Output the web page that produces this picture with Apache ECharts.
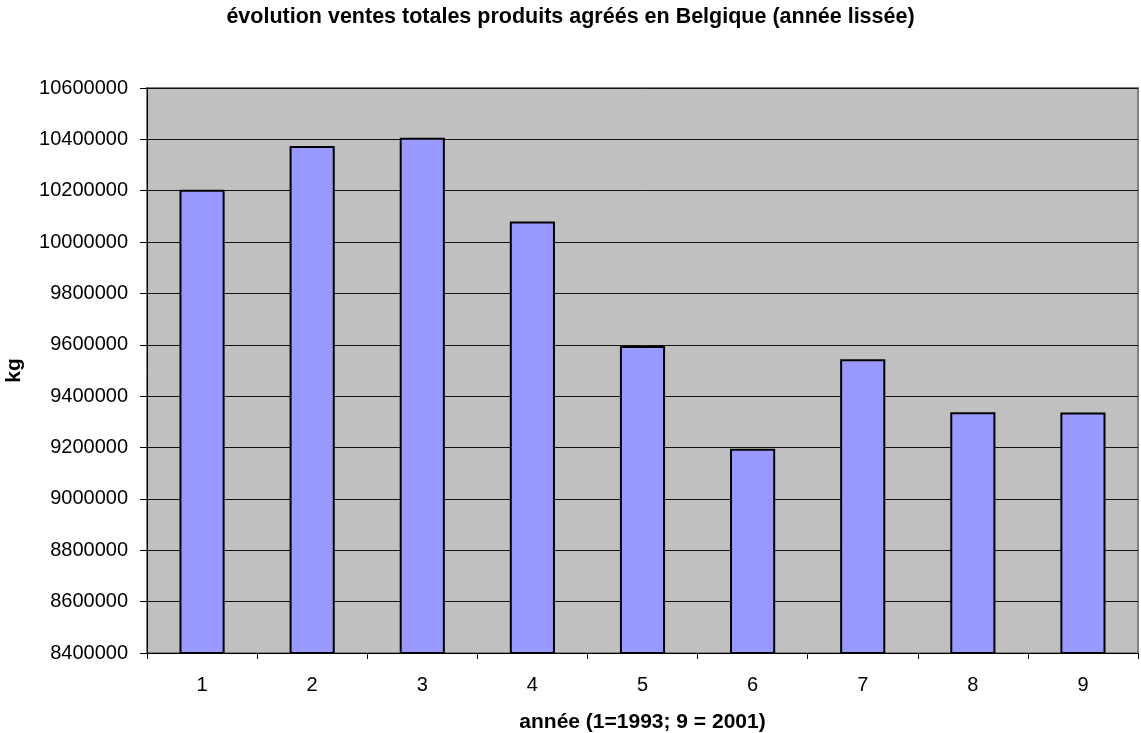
<!DOCTYPE html>
<html>
<head>
<meta charset="utf-8">
<script src="https://cdn.jsdelivr.net/npm/echarts@6/dist/echarts.min.js"></script>
<style>html,body{margin:0;padding:0;background:#fff}#c{width:1141px;height:733px}</style>
</head>
<body>
<div id="c"></div>
<script>
const categories = ['1','2','3','4','5','6','7','8','9'];
const values = [10204000, 10374000, 10406000, 10080000, 9595000, 9195000, 9544000, 9337000, 9336000];
const titleText = 'évolution ventes totales produits agréés en Belgique (année lissée)';
const xName = 'année (1=1993; 9 = 2001)';
const yName = 'kg';

const FONT = 'Liberation Sans, Arial, sans-serif';
const chart = echarts.init(document.getElementById('c'), null, {renderer:'canvas'});
chart.setOption({
  animation: false,
  textStyle: {fontFamily: FONT},
  title: {
    text: titleText, left: 'center', top: 1,
    textStyle: {fontSize: 21.5, fontWeight: 'bold', color: '#000', fontFamily: FONT}
  },
  grid: {
    left: 147, right: 3, top: 88, bottom: 80,
    outerBoundsMode: 'none', containLabel: false,
    show: true, backgroundColor: '#C0C0C0', borderColor: '#808080', borderWidth: 2
  },
  xAxis: {
    type: 'category', data: categories,
    name: xName, nameLocation: 'middle', nameGap: 59,
    nameTextStyle: {fontSize: 21, fontWeight: 'bold', color: '#000', fontFamily: FONT},
    axisLine: {lineStyle: {color: '#000', width: 1}},
    axisTick: {show: true, alignWithLabel: false, length: 6, lineStyle: {color: '#000'}},
    axisLabel: {fontSize: 20, color: '#000', margin: 22, fontFamily: FONT}
  },
  yAxis: {
    type: 'value', min: 8400000, max: 10600000, interval: 200000,
    name: yName, nameLocation: 'middle', nameGap: 122, nameRotate: 90,
    nameTextStyle: {fontSize: 21, fontWeight: 'bold', color: '#000', fontFamily: FONT},
    axisLine: {show: true, lineStyle: {color: '#000', width: 1}},
    axisTick: {show: true, length: 7, lineStyle: {color: '#000'}},
    axisLabel: {fontSize: 20, color: '#000', margin: 19, fontFamily: FONT, formatter: v => String(v)},
    splitLine: {show: true, lineStyle: {color: '#111', width: 1}}
  },
  series: [{
    type: 'bar', data: values, barWidth: '41%',
    itemStyle: {color: '#9999FF', borderColor: '#000', borderWidth: 2}
  }]
});
</script>
</body>
</html>
